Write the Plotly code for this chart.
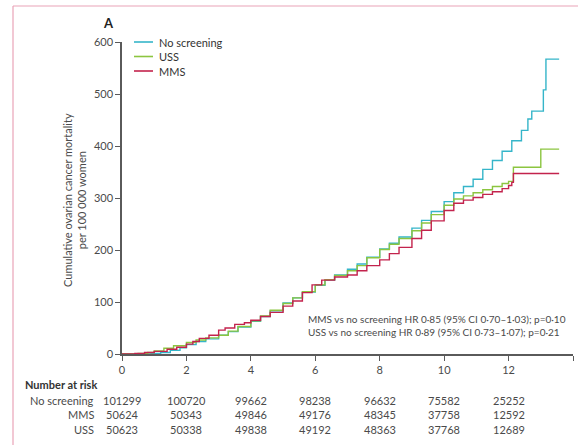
import plotly.graph_objects as go

# ---- data ----
t_none = [0, 0.9, 1.2, 1.5, 1.8, 2.0, 2.3, 2.6, 3.0, 3.3, 3.6, 4.0, 4.3, 4.6, 5.0, 5.3, 5.6, 6.0, 6.3, 6.6,
          7.0, 7.3, 7.6, 8.0, 8.3, 8.6, 9.0, 9.3, 9.6, 10.0, 10.3, 10.6, 10.9, 11.2, 11.5, 11.8, 12.1, 12.4,
          12.6, 12.72, 13.08, 13.16, 13.57]
v_none = [0, 1, 3, 7, 12, 18, 24, 29, 36, 43, 52, 63, 72, 83, 98, 108, 119, 132, 142, 152,
          163, 173, 186, 202, 213, 225, 242, 257, 274, 293, 310, 322, 336, 355, 372, 390, 410, 430,
          452, 467, 508, 567, 567]

t_uss = [0, 0.5, 0.8, 1.0, 1.3, 1.6, 2.0, 2.3, 2.6, 3.0, 3.3, 3.6, 4.0, 4.3, 4.6, 5.0, 5.3, 5.6, 6.0, 6.3,
         6.6, 7.0, 7.3, 7.6, 8.0, 8.3, 8.6, 9.0, 9.3, 9.6, 10.0, 10.3, 10.6, 10.9, 11.2, 11.5, 11.8, 12.0,
         12.15, 13.0, 13.57]
v_uss = [0, 1, 3, 6, 11, 16, 22, 27, 31, 36, 44, 53, 64, 73, 84, 97, 108, 120, 133, 143,
         151, 160, 170, 185, 201, 211, 222, 237, 252, 268, 286, 298, 304, 310, 316, 322, 328, 332,
         359, 394, 394]

t_mms = [0, 0.4, 0.7, 1.0, 1.4, 1.7, 2.0, 2.2, 2.4, 2.7, 3.0, 3.2, 3.5, 3.8, 4.0, 4.3, 4.6, 5.0, 5.3, 5.6,
         5.9, 6.2, 6.6, 7.0, 7.3, 7.6, 8.0, 8.3, 8.6, 9.0, 9.3, 9.6, 10.0, 10.3, 10.6, 10.9, 11.2, 11.5,
         11.8, 12.0, 12.1, 12.15, 13.57]
v_mms = [0, 1, 3, 5, 9, 13, 19, 24, 30, 36, 46, 50, 57, 60, 65, 72, 80, 92, 102, 118,
         133, 142, 148, 152, 160, 170, 181, 193, 205, 222, 238, 256, 276, 290, 296, 301, 307, 312,
         318, 324, 330, 347, 347]

risk_times = [0, 2, 4, 6, 8, 10, 12]
risk_none = ["101299", "100720", "99662", "98238", "96632", "75582", "25252"]
risk_mms = ["50624", "50343", "49846", "49176", "48345", "37758", "12592"]
risk_uss = ["50623", "50338", "49838", "49192", "48363", "37768", "12689"]

x_ticks = [0, 2, 4, 6, 8, 10, 12, 14]
y_ticks = [0, 100, 200, 300, 400, 500, 600]

C_NONE = "#35b5c9"
C_USS = "#8cc540"
C_MMS = "#c3234d"
TXT = "#4a4a4a"
AX = "#5a5a5a"
FONT = "Lato, Open Sans, sans-serif"

series = [("No screening", t_none, v_none, C_NONE),
          ("USS", t_uss, v_uss, C_USS),
          ("MMS", t_mms, v_mms, C_MMS)]

fig = go.Figure()
for name, t, v, c in series:
    fig.add_trace(go.Scatter(x=t, y=v, mode="lines", name=name, showlegend=False,
                             line=dict(color=c, width=1.4, shape="hv")))

# plot area in pixels: x 122..573, y 42..354
W, H = 578, 445
L, R, T, B = 122, 573, 42, 354
pw, ph = R - L, B - T


def px2paper_x(px):
    return (px - L) / pw


def px2paper_y(py):
    return (B - py) / ph


annotations = []
shapes = []

# legend (compact, as in the reference)
for i, (name, t, v, c) in enumerate(series):
    py = 42 + i * 14.5
    shapes.append(dict(type="line", xref="paper", yref="paper",
                       x0=px2paper_x(134), x1=px2paper_x(153), y0=px2paper_y(py), y1=px2paper_y(py),
                       line=dict(color=c, width=1.6)))
    annotations.append(dict(text=name, x=px2paper_x(157), y=px2paper_y(py), xref="paper", yref="paper",
                            xanchor="left", yanchor="middle", showarrow=False,
                            font=dict(size=11, color="#333", family=FONT)))

# Number at risk table
annotations.append(dict(text="<b>Number at risk</b>", x=px2paper_x(23), y=px2paper_y(384),
                        xref="paper", yref="paper", xanchor="left", yanchor="middle",
                        showarrow=False, font=dict(size=11, color="#333", family=FONT)))
rows = [("No screening", risk_none, 400), ("MMS", risk_mms, 414.5), ("USS", risk_uss, 429)]
for label, vals, py in rows:
    annotations.append(dict(text=label, x=px2paper_x(96), y=px2paper_y(py), xref="paper", yref="paper",
                            xanchor="right", yanchor="middle", showarrow=False,
                            font=dict(size=11, color=TXT, family=FONT)))
    for tt, vv in zip(risk_times, vals):
        annotations.append(dict(text=vv, x=tt, y=px2paper_y(py), xref="x", yref="paper",
                                xanchor="center", yanchor="middle", showarrow=False,
                                font=dict(size=11, color=TXT, family=FONT)))

# HR text
annotations.append(dict(text="MMS vs no screening HR 0·85 (95% CI 0·70–1·03); p=0·10<br>"
                             "USS vs no screening HR 0·89 (95% CI 0·73–1·07); p=0·21",
                        x=px2paper_x(306), y=px2paper_y(325), xref="paper", yref="paper",
                        xanchor="left", yanchor="middle", align="left", showarrow=False,
                        font=dict(size=10, color=TXT, family=FONT)))
# Panel letter
annotations.append(dict(text="<b>A</b>", x=px2paper_x(108), y=px2paper_y(23), xref="paper", yref="paper",
                        xanchor="center", yanchor="middle", showarrow=False,
                        font=dict(size=13, color="#222", family=FONT)))
# Y title
annotations.append(dict(text="Cumulative ovarian cancer mortality<br>per 100 000 women",
                        x=px2paper_x(74), y=px2paper_y(200), xref="paper", yref="paper",
                        xanchor="center", yanchor="middle", textangle=-90, showarrow=False,
                        font=dict(size=11, color=TXT, family=FONT)))

# pink page frame (top and left)
shapes += [
    dict(type="line", xref="paper", yref="paper", x0=px2paper_x(13), x1=px2paper_x(W + 5),
         y0=px2paper_y(6), y1=px2paper_y(6), line=dict(color="#e9a3b8", width=1.2)),
    dict(type="line", xref="paper", yref="paper", x0=px2paper_x(13), x1=px2paper_x(13),
         y0=px2paper_y(6), y1=px2paper_y(H + 5), line=dict(color="#e9a3b8", width=1.2)),
]

fig.update_layout(
    width=W, height=H,
    margin=dict(l=L, r=W - R, t=T, b=H - B, pad=0),
    paper_bgcolor="white", plot_bgcolor="white",
    font=dict(family=FONT, size=11, color=TXT),
    showlegend=False,
    annotations=annotations,
    shapes=shapes,
    xaxis=dict(range=[0, 14], tickvals=x_ticks, ticktext=[str(v) for v in x_ticks],
               showline=True, linecolor=AX, linewidth=1.5, ticks="outside", ticklen=5,
               tickcolor=AX, tickwidth=1.2, showgrid=False, zeroline=False,
               tickfont=dict(size=11, color=TXT), fixedrange=True),
    yaxis=dict(range=[0, 600], tickvals=y_ticks, ticktext=[str(v) for v in y_ticks],
               showline=True, linecolor=AX, linewidth=1.5, ticks="outside", ticklen=5,
               tickcolor=AX, tickwidth=1.2, showgrid=False, zeroline=False,
               tickfont=dict(size=11, color=TXT), fixedrange=True),
)

fig.write_html("out.html", config={"displayModeBar": False},
               post_script="document.body.style.margin='0';document.body.style.padding='0';")
